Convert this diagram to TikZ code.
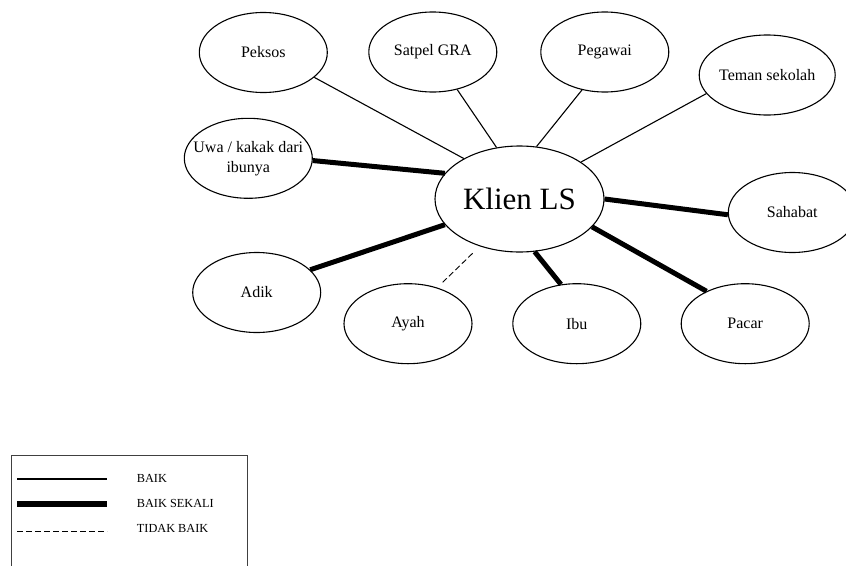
\documentclass[tikz,border=0pt]{standalone}
\usepackage{fontspec}
\setmainfont{Liberation Serif}
\usetikzlibrary{shapes.geometric}
\tikzset{orang/.style={ellipse,draw,line width=1.1pt,minimum width=128pt,minimum height=80pt,inner sep=0pt,align=center,font=\fontsize{16}{20}\selectfont}}
\tikzset{baik/.style={line width=1.1pt}}
\tikzset{baiksekali/.style={line width=5pt}}
\tikzset{tidakbaik/.style={line width=0.9pt,dash pattern=on 6pt off 3pt}}
\tikzset{ket/.style={anchor=west,inner sep=0pt,font=\fontsize{12.3}{14}\selectfont}}

\begin{document}
\begin{tikzpicture}[x=1pt,y=-1pt]
        \useasboundingbox (0,0) rectangle (846,565);
        \node[orang,minimum width=169pt,minimum height=106pt,font=\fontsize{31}{36}\selectfont] (klien) at (519.5,199) {Klien LS};
        \node[orang] (peksos) at (263.3,52.5) {Peksos};
        \node[orang] (satpel) at (432.8,52) {Satpel GRA};
        \node[orang] (pegawai) at (604.8,52) {Pegawai};
        \node[orang] (teman) at (767.2,75) {Teman sekolah};
        \node[orang,inner xsep=-18pt] (uwa) at (248.3,158.3) {Uwa / kakak dari\\ibunya};
        \node[orang] (sahabat) at (792.3,212.5) {Sahabat};
        \node[orang] (adik) at (256.7,292.5) {Adik};
        \node[orang] (ayah) at (408,323.7) {Ayah};
        \node[orang] (ibu) at (576.8,323.7) {Ibu};
        \node[orang] (pacar) at (745.2,323.7) {Pacar};
        \draw[baik] (peksos.-26) -- (klien.144);
        \draw[baik] (satpel.-57) -- (klien.114);
        \draw[baik] (pegawai.-121) -- (klien.72);
        \draw[baik] (teman.197) -- (klien.31);
        \draw[baiksekali] (uwa.-2) -- (klien.161);
        \draw[baiksekali] (sahabat.182) -- (klien.0);
        \draw[baiksekali] (adik.23) -- (klien.199);
        \draw[baiksekali] (ibu.112) -- (klien.-74);
        \draw[baiksekali] (pacar.140) -- (klien.-21);
        \draw[tidakbaik,shorten <=10pt,shorten >=7.5pt] (klien.230) -- (ayah.51);
        \draw[line width=0.9pt,black!75] (11,455) rectangle (247,585);
        \node[ket] (kbaik) at (136.7,478) {BAIK};
        \node[ket] (ksekali) at (136.7,503) {BAIK SEKALI};
        \node[ket] (ktidak) at (136.7,528.5) {TIDAK BAIK};
        \coordinate (lbaik) at (17,479);
        \coordinate (lsekali) at (17,504);
        \coordinate (ltidak) at (17,531);
        \draw[baik] (lbaik) -- +(90,0);
        \draw[line width=5.5pt] (lsekali) -- +(90,0);
        \draw[tidakbaik] (ltidak) -- +(90,0);
\end{tikzpicture}
\end{document}
